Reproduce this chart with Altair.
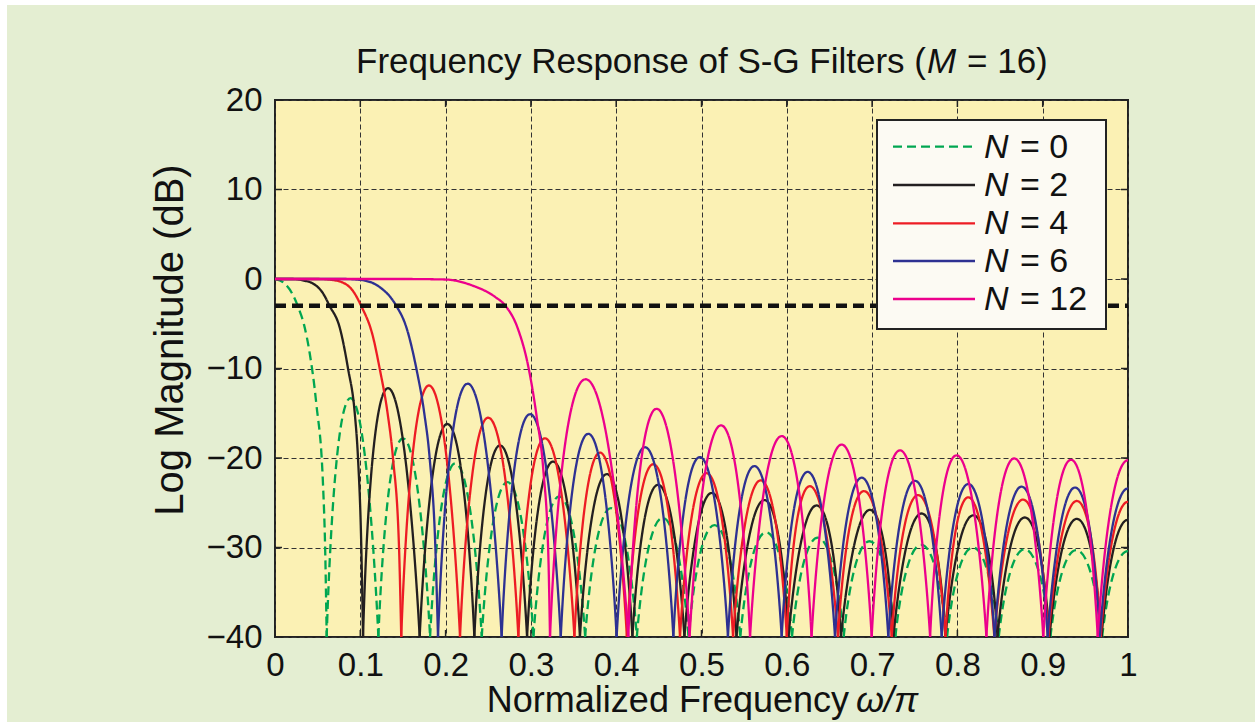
import altair as alt
import pandas as pd

# ---------------- data ----------------
freq_ticks = [0, 0.1, 0.2, 0.3, 0.4, 0.5, 0.6, 0.7, 0.8, 0.9, 1.0]
db_ticks = [-40, -30, -20, -10, 0, 10, 20]
cutoff_db = [-3]
floor_db = -40

series_names = ["N = 0", "N = 2", "N = 4", "N = 6", "N = 12"]
legend_values = ["0", "2", "4", "6", "12"]

# N = 0
n0_main_f = [0, 0.010, 0.020, 0.027, 0.034, 0.0407, 0.0484, 0.0563, 0.0590, 0.0606]
n0_main_db = [0, -0.4, -1.6, -3.1, -5.1, -8.3, -13.9, -23.0, -31.0, -40]
n0_nulls = [0.0606, 0.1212, 0.1818, 0.2424, 0.3030, 0.3636, 0.4242, 0.4848, 0.5455,
            0.6061, 0.6667, 0.7273, 0.7879, 0.8485, 0.9091, 0.9697, 1.0303]
n0_peak_f = [0.0885, 0.1500, 0.2115, 0.2725, 0.3333, 0.3939, 0.4545, 0.5152, 0.5758,
             0.6364, 0.6970, 0.7576, 0.8182, 0.8788, 0.9394, 1.0]
n0_peak_db = [-13.3, -17.8, -20.6, -22.7, -24.3, -25.6, -26.7, -27.5, -28.3,
              -28.9, -29.3, -29.7, -30.0, -30.2, -30.3, -30.4]

# N = 2
n2_main_f = [0, 0.020, 0.035, 0.0445, 0.0563, 0.064, 0.0758, 0.0856, 0.0935, 0.0973, 0.1012, 0.1032]
n2_main_db = [0, 0, -0.2, -0.5, -1.6, -3.0, -5.4, -10, -15, -20, -30, -40]
n2_nulls = [0.1032, 0.1696, 0.2337, 0.2955, 0.3575, 0.419, 0.480, 0.541, 0.602,
            0.6635, 0.725, 0.786, 0.847, 0.908, 0.969, 1.031]
n2_peak_f = [0.1325, 0.202, 0.2638, 0.326, 0.389, 0.449, 0.512, 0.5737, 0.635,
             0.6975, 0.758, 0.8187, 0.879, 0.940, 1.0]
n2_peak_db = [-12.2, -16.2, -18.6, -20.4, -21.8, -23.0, -23.9, -24.7, -25.3,
              -25.8, -26.2, -26.4, -26.65, -26.8, -26.9]

# N = 4
n4_main_f = [0, 0.05, 0.07, 0.0875, 0.101, 0.115, 0.1227, 0.132, 0.1383, 0.1454, 0.148]
n4_main_db = [0, 0, -0.15, -0.9, -3.0, -6.5, -10, -15, -20, -30, -40]
n4_nulls = [0.148, 0.2169, 0.2853, 0.351, 0.4125, 0.4748, 0.537, 0.600, 0.660,
            0.723, 0.786, 0.8433, 0.9066, 0.968, 1.032]
n4_peak_f = [0.1805, 0.250, 0.3165, 0.381, 0.4435, 0.506, 0.5694, 0.627, 0.6905,
             0.754, 0.8128, 0.877, 0.940, 1.0]
n4_peak_db = [-11.9, -15.5, -17.8, -19.4, -20.7, -21.7, -22.5, -23.15, -23.7,
              -24.15, -24.4, -24.65, -24.8, -24.9]

# N = 6
n6_main_f = [0, 0.08, 0.10, 0.1227, 0.1422, 0.154, 0.1657, 0.175, 0.1813, 0.188, 0.1911]
n6_main_db = [0, 0, -0.1, -0.9, -3.0, -5.4, -10, -15, -20, -30, -40]
n6_nulls = [0.1911, 0.2657, 0.335, 0.4005, 0.467, 0.531, 0.594, 0.6565, 0.719,
            0.7816, 0.8435, 0.9058, 0.967, 1.033]
n6_peak_f = [0.2259, 0.299, 0.3673, 0.4338, 0.498, 0.562, 0.6245, 0.6878, 0.7503,
             0.8128, 0.8753, 0.938, 1.0]
n6_peak_db = [-11.7, -15.1, -17.3, -18.8, -19.9, -20.9, -21.55, -22.2, -22.55,
              -22.9, -23.2, -23.3, -23.4]

# N = 12
n12_main_f = [0, 0.15, 0.20, 0.2306, 0.258, 0.2696, 0.2853, 0.297, 0.3068, 0.3146, 0.3204, 0.3224]
n12_main_db = [0, 0, -0.06, -0.7, -2.0, -2.93, -5.7, -9.8, -15.4, -21.4, -30.7, -40]
n12_nulls = [0.3224, 0.4142, 0.486, 0.5569, 0.629, 0.6995, 0.768, 0.834, 0.9007, 0.9645, 1.0355]
n12_peak_f = [0.3642, 0.4474, 0.5229, 0.594, 0.6643, 0.7327, 0.799, 0.8667, 0.9332, 1.0]
n12_peak_db = [-11.2, -14.5, -16.35, -17.55, -18.5, -19.15, -19.7, -20.05, -20.2, -20.25]

# ---------------- styling ----------------
FONT = "Liberation Sans"
W, H = 853, 537
colors = ["#00a651", "#231f20", "#ed1c24", "#2e3192", "#ec008c"]
dashes = [[9, 5], [1, 0], [1, 0], [1, 0], [1, 0]]
LW = 2.3


def build(main_f, main_db, nulls, peak_f, peak_db):
    main = pd.DataFrame({"f": main_f, "db": main_db})
    rows = []
    for i in range(len(peak_f)):
        rows.append(dict(seg=i, f=nulls[i], db=floor_db))
        rows.append(dict(seg=i, f=peak_f[i], db=peak_db[i]))
        rows.append(dict(seg=i, f=nulls[i + 1], db=floor_db))
    return main, pd.DataFrame(rows)


curves = [
    build(n0_main_f, n0_main_db, n0_nulls, n0_peak_f, n0_peak_db),
    build(n2_main_f, n2_main_db, n2_nulls, n2_peak_f, n2_peak_db),
    build(n4_main_f, n4_main_db, n4_nulls, n4_peak_f, n4_peak_db),
    build(n6_main_f, n6_main_db, n6_nulls, n6_peak_f, n6_peak_db),
    build(n12_main_f, n12_main_db, n12_nulls, n12_peak_f, n12_peak_db),
]

xscale = alt.Scale(domain=[0, 1], nice=False, zero=False)
yscale = alt.Scale(domain=[-40, 20], nice=False, zero=False)
xaxis = alt.Axis(values=freq_ticks, format="~g", title=None, labelFont=FONT, labelFontSize=33,
                 labelColor="#111", labelPadding=12, ticks=False, domain=False, grid=True,
                 gridDash=[5, 3], gridColor="#333", gridWidth=1, labelFlush=False)
yaxis = alt.Axis(values=db_ticks, format="d", title=None, labelFont=FONT, labelFontSize=33,
                 labelColor="#111", labelPadding=13, ticks=False, domain=False, grid=True,
                 gridDash=[5, 3], gridColor="#333", gridWidth=1, labelFlush=False)


def X(field):
    return alt.X(field, type="quantitative", scale=xscale, axis=xaxis)


def Y(field):
    return alt.Y(field, type="quantitative", scale=yscale, axis=yaxis)


one = pd.DataFrame({"k": [0]})
layers = []

# inward ticks
xt = pd.DataFrame({"f": freq_ticks})
yt = pd.DataFrame({"db": db_ticks})
layers.append(alt.Chart(xt).mark_rule(color="#222", strokeWidth=1.5).encode(
    x=X("f"), y=alt.value(H), y2=alt.value(H - 7)))
layers.append(alt.Chart(xt).mark_rule(color="#222", strokeWidth=1.5).encode(
    x=X("f"), y=alt.value(0), y2=alt.value(7)))
layers.append(alt.Chart(yt).mark_rule(color="#222", strokeWidth=1.5).encode(
    y=Y("db"), x=alt.value(0), x2=alt.value(7)))
layers.append(alt.Chart(yt).mark_rule(color="#222", strokeWidth=1.5).encode(
    y=Y("db"), x=alt.value(W), x2=alt.value(W - 7)))

# curves: pass band with monotone, side lobes as arches
for (main, side), c, d in zip(curves, colors, dashes):
    layers.append(alt.Chart(main).mark_line(interpolate="monotone", clip=True, color=c,
                                            strokeWidth=LW, strokeDash=d).encode(
        x=X("f"), y=Y("db")))
    layers.append(alt.Chart(side).mark_line(interpolate="cardinal", tension=alt.ExprRef(expr="-1"),
                                            clip=True, color=c, strokeWidth=LW, strokeDash=d).encode(
        x=X("f"), y=Y("db"), detail="seg:N"))

# -3 dB line
layers.append(alt.Chart(pd.DataFrame({"db": cutoff_db})).mark_rule(
    color="#111", strokeWidth=4.5, strokeDash=[11, 6]).encode(
    y=Y("db"), x=alt.value(0), x2=alt.value(W)))

# legend box
layers.append(alt.Chart(one).mark_rect(fill="#fcfaf3", stroke="#222", strokeWidth=2).encode(
    x=alt.value(602), x2=alt.value(831), y=alt.value(20), y2=alt.value(229)))
row_y = [46.7, 85, 123.3, 161, 199]
for name, val, c, d, ry in zip(series_names, legend_values, colors, dashes, row_y):
    layers.append(alt.Chart(one).mark_rule(color=c, strokeWidth=LW, strokeDash=d).encode(
        x=alt.value(618), x2=alt.value(700), y=alt.value(ry)))
    layers.append(alt.Chart(one).mark_text(text="N", font=FONT, fontSize=34, fontStyle="italic",
                                           align="left", baseline="middle", color="#111").encode(
        x=alt.value(709), y=alt.value(ry + 1)))
    layers.append(alt.Chart(one).mark_text(text="= " + val, font=FONT, fontSize=34,
                                           align="left", baseline="middle", color="#111").encode(
        x=alt.value(745), y=alt.value(ry + 1)))

# title pieces
layers.append(alt.Chart(one).mark_text(text="Frequency Response of S-G Filters (", font=FONT,
                                       fontSize=35, align="right", baseline="alphabetic",
                                       color="#111").encode(x=alt.value(651), y=alt.value(-27)))
layers.append(alt.Chart(one).mark_text(text="M", font=FONT, fontSize=35, fontStyle="italic",
                                       align="left", baseline="alphabetic",
                                       color="#111").encode(x=alt.value(652), y=alt.value(-27)))
layers.append(alt.Chart(one).mark_text(text="= 16)", font=FONT, fontSize=35,
                                       align="left", baseline="alphabetic",
                                       color="#111").encode(x=alt.value(692), y=alt.value(-27)))

# axis titles
layers.append(alt.Chart(one).mark_text(text="Normalized Frequency", font=FONT, fontSize=36,
                                       align="right", baseline="alphabetic",
                                       color="#111").encode(x=alt.value(574), y=alt.value(612)))
layers.append(alt.Chart(one).mark_text(text="ω/π", font=FONT, fontSize=36, fontStyle="italic",
                                       align="left", baseline="alphabetic",
                                       color="#111").encode(x=alt.value(581), y=alt.value(612)))
layers.append(alt.Chart(one).mark_text(text="Log Magnitude (dB)", font=FONT, fontSize=40, angle=270,
                                       align="center", baseline="middle",
                                       color="#111").encode(x=alt.value(-104), y=alt.value(240)))

# white strips at the page edge
layers.append(alt.Chart(one).mark_rect(fill="#ffffff").encode(
    x=alt.value(-275), x2=alt.value(-268), y=alt.value(-100), y2=alt.value(H + 85)))
layers.append(alt.Chart(one).mark_rect(fill="#ffffff").encode(
    x=alt.value(-275), x2=alt.value(W + 127), y=alt.value(-100), y2=alt.value(-95)))

chart = alt.layer(*layers).properties(
    width=W, height=H,
    padding={"left": 275, "top": 100, "right": 127, "bottom": 85},
    autosize=alt.AutoSizeParams(type="none"),
    background="#e4eed2",
).configure_view(fill="#fbf1b4", stroke="#222", strokeWidth=2)

chart.save("out.html", embed_options={"renderer": "svg", "actions": False})
